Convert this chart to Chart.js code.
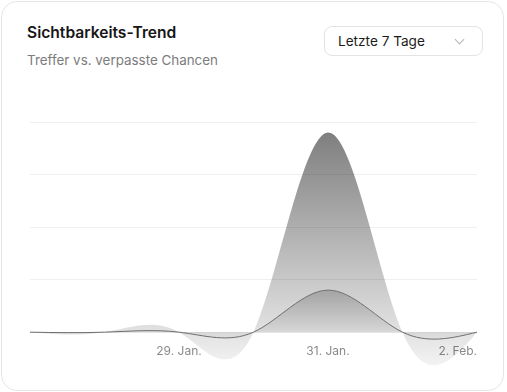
<!DOCTYPE html>
<html lang="de">
<head>
<meta charset="utf-8">
<title>Sichtbarkeits-Trend</title>
<script src="https://cdn.jsdelivr.net/npm/chart.js@4.4.1/dist/chart.umd.min.js"></script>
<style>
  html, body { margin: 0; padding: 0; background: #fff; }
  body { width: 507px; height: 392px; position: relative; overflow: hidden; font-family: Inter, "Noto Sans", sans-serif; }
  .card { position: absolute; left: 1px; top: 1px; width: 503px; height: 390px; box-sizing: border-box;
          border: 1px solid #e6e6e6; border-radius: 16px; background: #fff; }
  .title { position: absolute; left: 25px; top: 22px; font-size: 15.6px; font-weight: 600; color: #161616; line-height: 18px; }
  .sub { position: absolute; left: 25px; top: 50px; font-size: 13.4px; color: #7c7c7c; line-height: 16px; }
  .select { position: absolute; left: 322px; top: 24px; width: 159px; height: 30px; box-sizing: border-box;
            border: 1px solid #e3e3e3; border-radius: 8px; font-size: 13.6px; color: #1c1c1c;
            line-height: 28px; padding-left: 13px; }
  .select .chev { position: absolute; right: 19px; top: 9px; width: 6px; height: 6px;
                  border-right: 1px solid #b5b5b5; border-bottom: 1px solid #b5b5b5; transform: rotate(45deg); }
  #wrap { position: absolute; left: 0; top: 100px; width: 507px; height: 280px; }
</style>
</head>
<body>
<div class="card">
  <div class="title">Sichtbarkeits-Trend</div>
  <div class="sub">Treffer vs. verpasste Chancen</div>
  <div class="select">Letzte 7 Tage<span class="chev"></span></div>
</div>
<div id="wrap"><canvas id="trend"></canvas></div>
<script>
// data
var days = ["27. Jan.", "28. Jan.", "29. Jan.", "30. Jan.", "31. Jan.", "1. Feb.", "2. Feb."];
var shownDays = ["29. Jan.", "31. Jan.", "2. Feb."];
var treffer = [0, 0, 0, 0, 20, 0, 0];
var verpasst = [0, 0, 0, 0, 95, 0, 0];

// natural cubic spline control points (same as d3 curveNatural)
function naturalControls(v) {
  var n = v.length - 1, i, m;
  var a = new Array(n), b = new Array(n), r = new Array(n);
  a[0] = 0; b[0] = 2; r[0] = v[0] + 2 * v[1];
  for (i = 1; i < n - 1; i++) { a[i] = 1; b[i] = 4; r[i] = 4 * v[i] + 2 * v[i + 1]; }
  a[n - 1] = 2; b[n - 1] = 7; r[n - 1] = 8 * v[n - 1] + v[n];
  for (i = 1; i < n; i++) { m = a[i] / b[i - 1]; b[i] -= m; r[i] -= m * r[i - 1]; }
  a[n - 1] = r[n - 1] / b[n - 1];
  for (i = n - 2; i >= 0; i--) a[i] = (r[i] - a[i + 1]) / b[i];
  b[n - 1] = (v[n] + a[n - 1]) / 2;
  for (i = 0; i < n - 1; i++) b[i] = 2 * v[i + 1] - a[i + 1];
  return [a, b];
}

var naturalCurve = {
  id: 'naturalCurve',
  beforeDatasetsDraw: function (chart) {
    chart.data.datasets.forEach(function (ds, i) {
      var meta = chart.getDatasetMeta(i);
      var pts = meta.data;
      if (pts.length < 3) return;
      var cx = naturalControls(pts.map(function (p) { return p.x; }));
      var cy = naturalControls(pts.map(function (p) { return p.y; }));
      for (var k = 0; k < pts.length - 1; k++) {
        pts[k].cp2x = cx[0][k]; pts[k].cp2y = cy[0][k];
        pts[k + 1].cp1x = cx[1][k]; pts[k + 1].cp1y = cy[1][k];
      }
      meta.dataset._pointsUpdated = true;
      meta.dataset._path = undefined;
    });
  }
};

function fade(chart, topValue, bottomPx, a0, a1) {
  var area = chart.chartArea;
  if (!area) return 'rgba(0,0,0,0)';
  var top = chart.scales.y.getPixelForValue(topValue);
  var g = chart.ctx.createLinearGradient(0, top, 0, bottomPx);
  g.addColorStop(0, 'rgba(0,0,0,' + a0 + ')');
  g.addColorStop(1, 'rgba(0,0,0,' + a1 + ')');
  return g;
}

var config = {
  type: 'line',
  data: {
    labels: days,
    datasets: [{
      label: 'Treffer',
      data: treffer,
      fill: 'origin',
      tension: 0.4,
      borderColor: '#6e6e6e',
      borderWidth: 1,
      pointRadius: 0,
      backgroundColor: function (ctx) {
        var c = ctx.chart;
        if (!c.chartArea) return 'rgba(0,0,0,0)';
        return fade(c, Math.max.apply(null, treffer), c.scales.y.getPixelForValue(0) + 8, 0.2, 0.02);
      }
    }, {
      label: 'Verpasste Chancen',
      data: verpasst,
      fill: 'origin',
      tension: 0.4,
      borderWidth: 0,
      pointRadius: 0,
      backgroundColor: function (ctx) {
        var c = ctx.chart;
        if (!c.chartArea) return 'rgba(0,0,0,0)';
        return fade(c, Math.max.apply(null, verpasst), c.chartArea.bottom, 0.5, 0.04);
      }
    }]
  },
  options: {
    responsive: true,
    maintainAspectRatio: false,
    animation: false,
    layout: { padding: { left: 30, right: 30, top: 22, bottom: 10 } },
    plugins: { legend: { display: false }, tooltip: { enabled: false } },
    scales: {
      x: {
        position: { y: 0 },
        grid: { display: false, drawTicks: false },
        border: { display: false },
        ticks: {
          autoSkip: false,
          maxRotation: 0,
          align: 'inner',
          padding: 12,
          color: '#8a8a8a',
          font: { family: 'Inter', size: 12 },
          callback: function (val, i) {
            var lab = days[i];
            return shownDays.indexOf(lab) >= 0 ? lab : '';
          }
        }
      },
      y: {
        min: -18,
        max: 100,
        border: { display: false },
        ticks: { display: false, stepSize: 25 },
        grid: {
          drawTicks: false,
          color: function (ctx) { return ctx.tick && ctx.tick.value < 0 ? 'rgba(0,0,0,0)' : '#efefef'; }
        },
        afterFit: function (s) { s.width = 0; }
      }
    }
  },
  plugins: [naturalCurve]
};

var chart = new Chart(document.getElementById('trend'), config);
</script>
</body>
</html>
